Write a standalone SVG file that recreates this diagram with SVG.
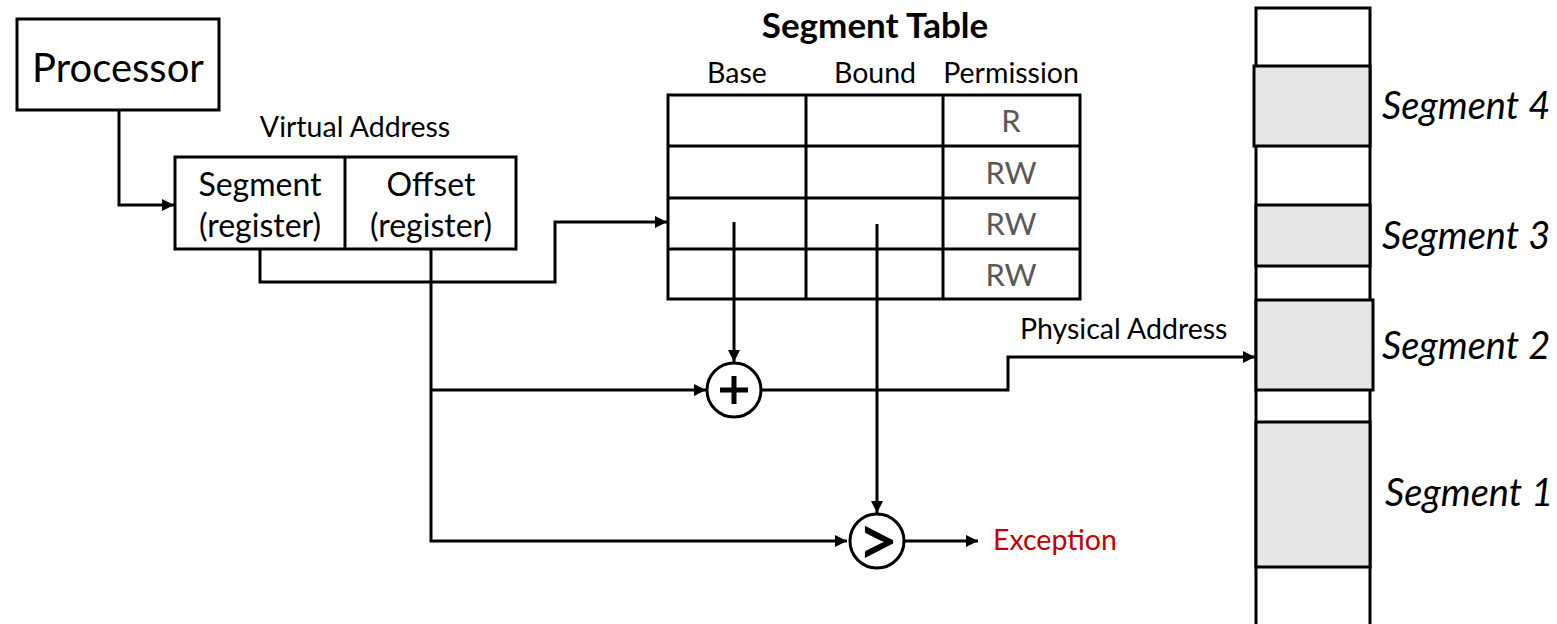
<svg xmlns="http://www.w3.org/2000/svg" width="1557" height="624" viewBox="0 0 1557 624">
<style>
text{font-family:Lato,"Open Sans","Liberation Sans",sans-serif;fill:#000}
.box{fill:#fff;stroke:#000;stroke-width:3}
.seg{fill:#e6e6e6;stroke:#000;stroke-width:3}
.ln{fill:none;stroke:#000;stroke-width:3}
.c{text-anchor:middle}
.perm{fill:#595959;font-size:31px;text-anchor:middle}
.lbl{font-size:28.5px}
.reg{font-size:32px;text-anchor:middle}
.mem{font-size:38px;font-style:italic}
</style>
<defs>
<marker id="ah" viewBox="0 0 10 10" refX="10" refY="5" markerWidth="4" markerHeight="4" orient="auto" markerUnits="strokeWidth">
<path d="M0,0 L10,5 L0,10 z" fill="#000"/>
</marker>
</defs>
<rect width="1557" height="624" fill="#fff"/>

<g id="connectors">
<path class="ln" d="M119,110 V205 H174" marker-end="url(#ah)"/>
<path class="ln" d="M260,249 V282 H555 V222 H667" marker-end="url(#ah)"/>
<path class="ln" d="M431,249 V541 H847" marker-end="url(#ah)"/>
<path class="ln" d="M431,390 H706" marker-end="url(#ah)"/>
<path class="ln" d="M734,222 V362" marker-end="url(#ah)"/>
<path class="ln" d="M877,224 V513" marker-end="url(#ah)"/>
<path class="ln" d="M761,390 H1008 V357 H1255" marker-end="url(#ah)"/>
<path class="ln" d="M904,541 H978" marker-end="url(#ah)"/>
</g>

<g id="processor">
<rect class="box" x="17" y="19" width="202" height="91"/>
<text class="c" x="118" y="82" font-size="40">Processor</text>
</g>

<g id="virtual-address">
<text class="c lbl" x="355" y="137">Virtual Address</text>
<rect class="box" x="175" y="157" width="341" height="92"/>
<line class="ln" x1="345" y1="157" x2="345" y2="249"/>
<text class="reg" x="260" y="196">Segment</text>
<text class="reg" x="260" y="237">(register)</text>
<text class="reg" x="431" y="196">Offset</text>
<text class="reg" x="431" y="237">(register)</text>
</g>

<g id="segment-table">
<text class="c" x="875" y="38" font-size="35" font-weight="bold">Segment Table</text>
<text class="c lbl" x="737" y="83">Base</text>
<text class="c lbl" x="875" y="83">Bound</text>
<text class="c lbl" x="1011" y="83">Permission</text>
<rect class="ln" x="668" y="95" width="412" height="204"/>
<path class="ln" d="M806,95 V299 M943,95 V299 M668,146 H1080 M668,198 H1080 M668,249 H1080"/>
<text class="perm" x="1011" y="132">R</text>
<text class="perm" x="1011" y="184">RW</text>
<text class="perm" x="1011" y="235">RW</text>
<text class="perm" x="1011" y="286">RW</text>
</g>

<g id="adder">
<circle class="box" cx="734" cy="390" r="27"/>
<path d="M734,376 V404 M720,390 H748" stroke="#000" stroke-width="5" fill="none"/>
</g>

<g id="comparator">
<circle class="box" cx="877" cy="541" r="27"/>
<text class="c" x="878" y="566" font-size="72" font-weight="600">&gt;</text>
</g>

<g id="labels">
<text class="lbl" x="1020" y="339">Physical Address</text>
<text class="lbl" x="993" y="550" style="fill:#c00000">Exception</text>
</g>

<g id="memory">
<rect class="box" x="1256" y="8" width="114" height="630"/>
<rect class="seg" x="1254" y="66" width="116" height="80"/>
<rect class="seg" x="1256" y="205" width="114" height="61"/>
<rect class="seg" x="1256" y="300" width="117" height="90"/>
<rect class="seg" x="1256" y="422" width="114" height="145"/>
<text class="mem" x="1382" y="119">Segment 4</text>
<text class="mem" x="1382" y="249">Segment 3</text>
<text class="mem" x="1382" y="359">Segment 2</text>
<text class="mem" x="1385" y="506">Segment 1</text>
</g>
</svg>
